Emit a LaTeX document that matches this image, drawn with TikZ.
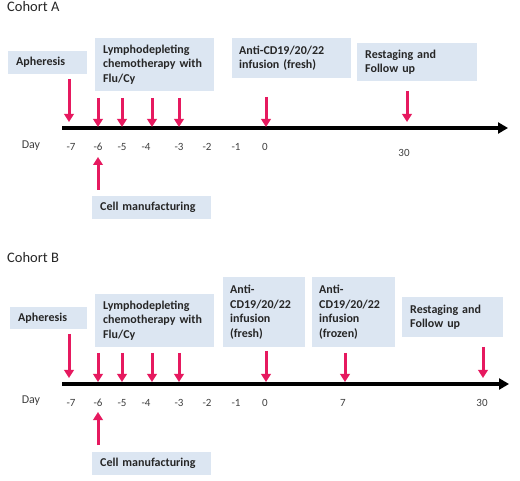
\documentclass[tikz,border=0pt]{standalone}
\usepackage{fontspec}
\setmainfont{Carlito}
\usetikzlibrary{arrows.meta}
\definecolor{boxblue}{HTML}{DCE6F2}
\definecolor{pinkarrow}{HTML}{E6195F}
\definecolor{daygray}{HTML}{404040}
\tikzset{
  infobox/.style={fill=boxblue, anchor=north west, align=left, inner xsep=8pt, inner ysep=0pt,
    font=\fontsize{12}{14.5}\selectfont\bfseries, text=black!85},
  pinkarr/.style={draw=pinkarrow, line width=3pt, -{Triangle[width=9.5pt,length=8pt]}},
  timeline/.style={draw=black, line width=3.5pt, -{Triangle[width=11pt,length=10pt]}},
  daylab/.style={font=\fontsize{12}{14}\selectfont, text=daygray, inner sep=0pt},
  numlab/.style={font=\fontsize{11}{12}\selectfont, text=daygray, inner sep=0pt},
  cohort/.style={font=\fontsize{14.5}{16}\selectfont, anchor=west, inner sep=0pt, text=black!85}
}
\begin{document}
\begin{tikzpicture}[x=1pt,y=-1pt]
\useasboundingbox (0,0) rectangle (520,481);
\fill[white] (0,0) rectangle (520,481);
% ---------------- Cohort A ----------------
\node[cohort] (cohA) at (7,7) {Cohort A};
\node[infobox, text width=63pt, minimum height=23pt] (aphA) at (8,51) {Apheresis};
\node[infobox, text width=103pt, minimum height=53pt] (lymA) at (95,38) {Lymphodepleting\\chemotherapy with\\Flu/Cy};
\node[infobox, text width=105pt, minimum height=40pt, inner xsep=7pt] (antA) at (232,38) {Anti-CD19/20/22\\infusion (fresh)};
\node[infobox, text width=104pt, minimum height=38pt] (resA) at (357,43) {Restaging and\\Follow up};
\node[infobox, text width=103pt, minimum height=23pt] (cellA) at (92,196) {Cell manufacturing};

\coordinate (tlAs) at (62,128);
\coordinate (tlAe) at (508,128);
\draw[timeline] (tlAs) -- (tlAe);

\foreach \n/\x/\ya/\yb in {aA/69/79/122, bA/98/98/127, cA/122/98/127, dA/152/98/127, eA/179/98/127, fA/266/97/127, gA/407/91/122}{
  \coordinate (\n s) at (\x,\ya);
  \coordinate (\n e) at (\x,\yb);
}
\foreach \n in {aA,bA,cA,dA,eA,fA,gA}{\draw[pinkarr] (\n s) -- (\n e);}
\coordinate (upAs) at (98,190);
\coordinate (upAe) at (98,157);
\draw[pinkarr] (upAs) -- (upAe);

\node[daylab] (dayA) at (31,146) {Day};
\foreach \n/\x/\t in {m7A/71/-7, m6A/98/-6, m5A/122/-5, m4A/146/-4, m3A/179/-3, m2A/207/-2, m1A/236/-1, z0A/265/0}{
  \node[numlab] (\n) at (\x,147) {\t};
}
\node[numlab] (t30A) at (404,153) {30};

% ---------------- Cohort B ----------------
\node[cohort] (cohB) at (7,258) {Cohort B};
\node[infobox, text width=61pt, minimum height=22pt] (aphB) at (10,307) {Apheresis};
\node[infobox, text width=103pt, minimum height=53pt] (lymB) at (95,294) {Lymphodepleting\\chemotherapy with\\Flu/Cy};
\node[infobox, text width=68pt, minimum height=70pt, inner xsep=7pt] (antB1) at (223,277) {Anti-\\CD19/20/22\\infusion\\(fresh)};
\node[infobox, text width=69pt, minimum height=70pt, inner xsep=7pt] (antB2) at (312,277) {Anti-\\CD19/20/22\\infusion\\(frozen)};
\node[infobox, text width=85pt, minimum height=40pt] (resB) at (402,297) {Restaging and\\Follow up};
\node[infobox, text width=103pt, minimum height=23pt] (cellB) at (92,452) {Cell manufacturing};

\coordinate (tlBs) at (62,384);
\coordinate (tlBe) at (509,384);
\draw[timeline] (tlBs) -- (tlBe);

\foreach \n/\x/\ya/\yb in {aB/69/334/378, bB/98/353/382, cB/122/353/382, dB/152/353/382, eB/179/353/382, fB/266/351/382, gB/345/353/382, hB/483/347/378}{
  \coordinate (\n s) at (\x,\ya);
  \coordinate (\n e) at (\x,\yb);
}
\foreach \n in {aB,bB,cB,dB,eB,fB,gB,hB}{\draw[pinkarr] (\n s) -- (\n e);}
\coordinate (upBs) at (98,445);
\coordinate (upBe) at (98,412);
\draw[pinkarr] (upBs) -- (upBe);

\node[daylab] (dayB) at (31,401) {Day};
\foreach \n/\x/\t in {m7B/71/-7, m6B/98/-6, m5B/122/-5, m4B/146/-4, m3B/179/-3, m2B/207/-2, m1B/236/-1, z0B/265/0, s7B/343/7, t30B/482/30}{
  \node[numlab] (\n) at (\x,403) {\t};
}
\end{tikzpicture}
\end{document}
